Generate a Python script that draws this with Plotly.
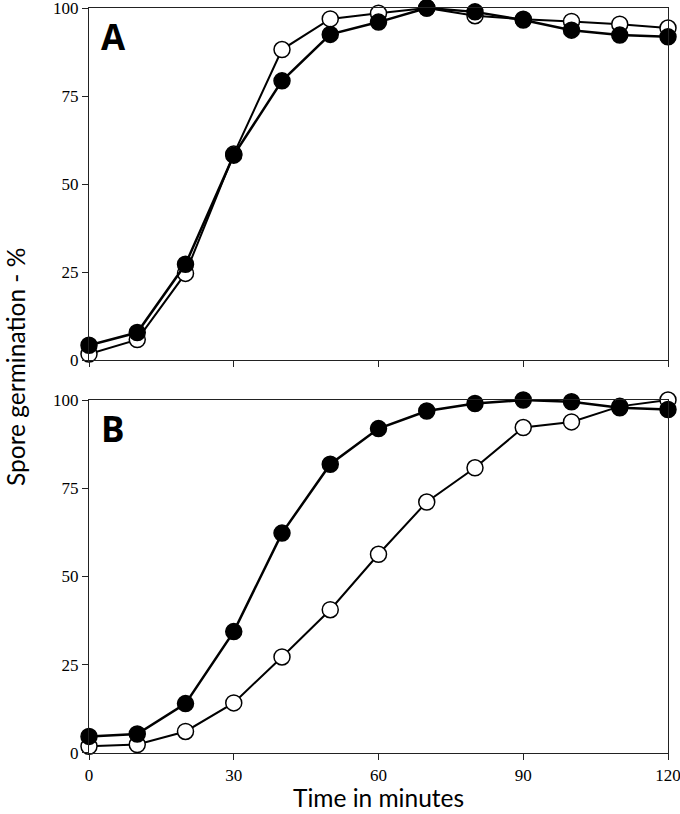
import plotly.graph_objects as go

time_min = [0, 10, 20, 30, 40, 50, 60, 70, 80, 90, 100, 110, 120]

a_open = [1.7, 5.8, 24.6, 58.5, 88.2, 96.9, 98.5, 100, 97.8, 96.8, 96.2, 95.4, 94.3]
a_filled = [4.2, 7.8, 27.2, 58.2, 79.3, 92.5, 96.0, 100, 98.9, 96.6, 93.7, 92.3, 91.8]

b_open = [1.9, 2.4, 6.1, 14.2, 27.2, 40.6, 56.3, 71.1, 80.8, 92.2, 93.8, 98.2, 100]
b_filled = [4.7, 5.4, 14.0, 34.4, 62.3, 81.8, 91.9, 96.9, 99.0, 100, 99.5, 97.8, 97.3]

x_ticks = [0, 30, 60, 90, 120]
y_ticks = [0, 25, 50, 75, 100]
panel_labels = ["A", "B"]

fig = go.Figure()

def add_pair(opn, fil, xa, ya):
    fig.add_trace(go.Scatter(
        x=time_min, y=opn, mode="lines+markers", xaxis=xa, yaxis=ya,
        line=dict(color="black", width=2),
        marker=dict(symbol="circle", size=16, color="white",
                    line=dict(color="black", width=1.5)),
        cliponaxis=False, showlegend=False))
    fig.add_trace(go.Scatter(
        x=time_min, y=fil, mode="lines+markers", xaxis=xa, yaxis=ya,
        line=dict(color="black", width=2.5),
        marker=dict(symbol="circle", size=16, color="black",
                    line=dict(color="black", width=1.5)),
        cliponaxis=False, showlegend=False))

add_pair(a_open, a_filled, "x", "y")
add_pair(b_open, b_filled, "x2", "y2")

tick_font = dict(family="Liberation Serif, Times New Roman, serif", size=17, color="black")
title_font = dict(family="Lato, Open Sans, sans-serif", size=24.5, color="black")

xcommon = dict(range=[0, 120], tickvals=x_ticks, ticks="outside", ticklen=6,
               tickcolor="#222", showline=True, linecolor="#222", linewidth=1.3,
               mirror=True, showgrid=False, zeroline=False, tickfont=tick_font,
               automargin=False, ticklabeloverflow="allow")
ycommon = dict(range=[0, 100], tickvals=y_ticks, ticks="outside", ticklen=6,
               tickcolor="#222", showline=True, linecolor="#222", linewidth=1.3,
               mirror=True, showgrid=False, zeroline=False, tickfont=tick_font,
               automargin=False, ticklabeloverflow="allow")

fig.update_layout(
    width=680, height=814,
    margin=dict(l=89, r=12, t=8, b=61),
    paper_bgcolor="white", plot_bgcolor="white",
    hovermode=False,
    xaxis=dict(**xcommon, domain=[0, 1], anchor="y", showticklabels=False),
    yaxis=dict(**ycommon, domain=[0.5275, 1], anchor="x"),
    xaxis2=dict(**xcommon, domain=[0, 1], anchor="y2"),
    yaxis2=dict(**ycommon, domain=[0, 0.4738], anchor="x2"),
)

fig.add_annotation(text="Time in minutes", xref="paper", yref="paper",
                   x=0.5, y=-0.0604, showarrow=False, font=title_font,
                   xanchor="center", yanchor="middle")

fig.add_annotation(text="Spore germination - %", xref="paper", yref="paper",
                   x=-0.128, y=0.518, textangle=-90, showarrow=False,
                   font=title_font, xanchor="center", yanchor="middle")

for lab, xr, yr in zip(panel_labels, ["x domain", "x2 domain"], ["y domain", "y2 domain"]):
    fig.add_annotation(text="<b>" + lab + "</b>", xref=xr, yref=yr,
                       x=0.0423, y=0.919, showarrow=False,
                       xanchor="center", yanchor="middle",
                       font=dict(family="Open Sans, sans-serif", size=35, color="black"))

fig.write_html("out.html", config={"displayModeBar": False},
               post_script="document.body.style.margin='0';")
